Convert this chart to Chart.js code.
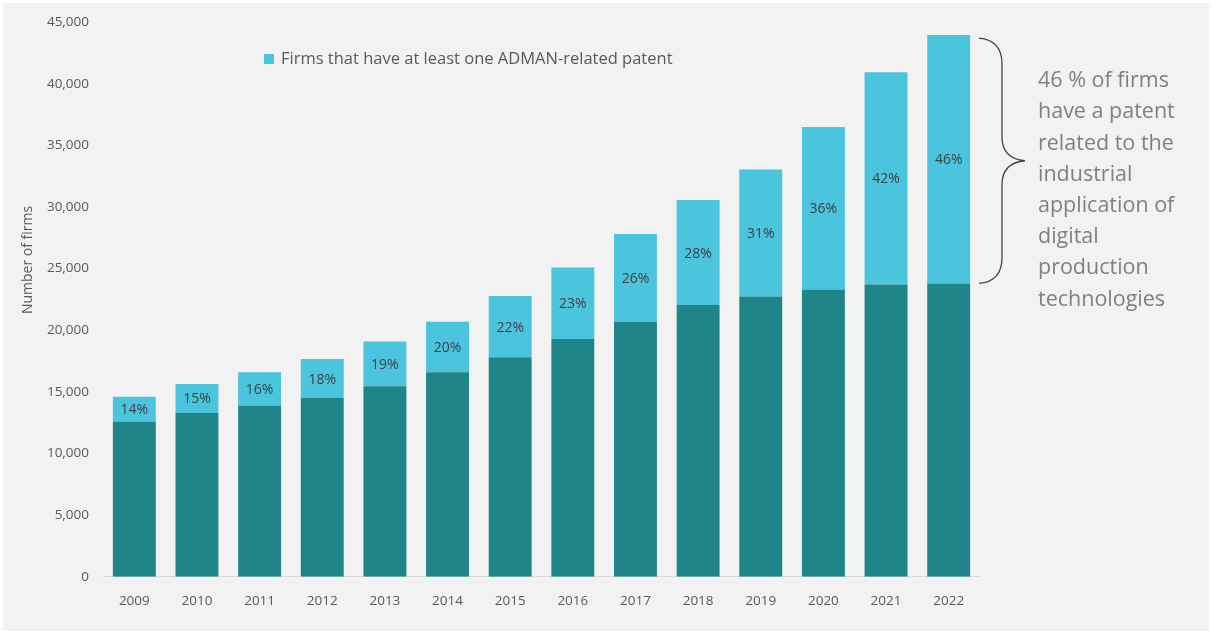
<!DOCTYPE html>
<html>
<head>
<meta charset="utf-8">
<script src="https://cdn.jsdelivr.net/npm/chart.js@4"></script>
<style>
  html, body { margin: 0; padding: 0; background: #ffffff; }
  #wrap { position: relative; width: 1212px; height: 633px; }
</style>
</head>
<body>
<div id="wrap"><canvas id="firmsChart"></canvas></div>
<script>
const years = ['2009', '2010', '2011', '2012', '2013', '2014', '2015',
  '2016', '2017', '2018', '2019', '2020', '2021', '2022'];

// firms without / with at least one ADMAN-related patent
const otherFirms = [12600, 13280, 13900, 14500, 15460, 16590, 17820,
  19300, 20670, 22040, 22740, 23300, 23710, 23800];
const patentFirms = [2000, 2370, 2700, 3160, 3630, 4110, 4950,
  5800, 7130, 8520, 10300, 13200, 17230, 20150];

const yTicks = [0, 5000, 10000, 15000, 20000, 25000, 30000, 35000, 40000, 45000];

const noteLines = ['46 % of firms', 'have a patent', 'related to the', 'industrial',
  'application of', 'digital', 'production', 'technologies'];

const sharePct = patentFirms.map((v, i) => Math.round(v / (v + otherFirms[i]) * 100));

const darkTeal = '#1f8589';
const lightBlue = '#4bc4de';

// grey panel, share labels, legend, brace and side note
const extras = {
  id: 'extras',
  beforeDraw(chart) {
    const ctx = chart.ctx;
    ctx.save();
    ctx.fillStyle = '#f2f2f2';
    ctx.fillRect(3, 3, 1206, 628);
    ctx.restore();
  },
  afterDatasetsDraw(chart) {
    const ctx = chart.ctx;
    const meta = chart.getDatasetMeta(1);
    ctx.save();
    ctx.font = '14px "Open Sans"';
    ctx.fillStyle = '#3f3f3f';
    ctx.textAlign = 'center';
    ctx.textBaseline = 'middle';
    meta.data.forEach((bar, i) => {
      ctx.fillText(sharePct[i] + '%', bar.x, (bar.y + bar.base) / 2 + 1);
    });
    ctx.restore();
  },
  afterDraw(chart) {
    const ctx = chart.ctx;
    const area = chart.chartArea;
    const y = chart.scales.y;
    ctx.save();

    // y axis title
    ctx.translate(28, 260);
    ctx.rotate(-Math.PI / 2);
    ctx.font = '14px "Open Sans"';
    ctx.fillStyle = '#595959';
    ctx.textAlign = 'center';
    ctx.textBaseline = 'middle';
    ctx.fillText('Number of firms', 0, 0);
    ctx.setTransform(1, 0, 0, 1, 0, 0);

    // legend for the patent series only
    const ds = chart.data.datasets[1];
    ctx.fillStyle = ds.backgroundColor;
    ctx.fillRect(264, 54, 10, 10);
    ctx.font = '16.5px "Open Sans"';
    ctx.fillStyle = '#595959';
    ctx.textAlign = 'left';
    ctx.textBaseline = 'middle';
    ctx.fillText(ds.label, 281, 59);

    // brace over the last patent segment
    const last = years.length - 1;
    const yT = y.getPixelForValue(otherFirms[last] + patentFirms[last]) + 3;
    const yB = y.getPixelForValue(otherFirms[last]);
    const yM = (yT + yB) / 2;
    const x0 = area.right - 1, xI = x0 + 23, xT = x0 + 46;
    ctx.strokeStyle = '#444444';
    ctx.lineWidth = 1.3;
    ctx.beginPath();
    ctx.moveTo(x0, yT);
    ctx.quadraticCurveTo(xI, yT + 2, xI, yT + 26);
    ctx.lineTo(xI, yM - 24);
    ctx.quadraticCurveTo(xI, yM - 2, xT, yM);
    ctx.quadraticCurveTo(xI, yM + 2, xI, yM + 24);
    ctx.lineTo(xI, yB - 26);
    ctx.quadraticCurveTo(xI, yB - 2, x0, yB);
    ctx.stroke();

    // side note
    ctx.font = '21.5px "Open Sans"';
    ctx.fillStyle = '#808080';
    noteLines.forEach((t, i) => ctx.fillText(t, 1038, 81 + i * 31.2));
    ctx.restore();
  }
};

new Chart(document.getElementById('firmsChart'), {
  type: 'bar',
  data: {
    labels: years,
    datasets: [
      {
        label: 'Other firms',
        data: otherFirms,
        backgroundColor: darkTeal,
        borderWidth: 0
      },
      {
        label: 'Firms that have at least one ADMAN-related patent',
        data: patentFirms,
        backgroundColor: lightBlue,
        borderWidth: 0
      }
    ]
  },
  options: {
    responsive: true,
    maintainAspectRatio: false,
    animation: false,
    categoryPercentage: 1,
    barPercentage: 0.685,
    layout: { padding: { left: 40, right: 232, top: 20, bottom: 8 } },
    plugins: {
      legend: { display: false },
      tooltip: { enabled: false },
      title: { display: false }
    },
    scales: {
      x: {
        stacked: true,
        grid: { display: false, drawTicks: false },
        border: { display: true, color: '#d9d9d9', width: 1 },
        ticks: { color: '#595959', font: { family: 'Open Sans', size: 13.5 }, padding: 16 }
      },
      y: {
        stacked: true,
        min: 0,
        max: 45000,
        afterFit(scale) { scale.width = 63; },
        afterBuildTicks(scale) { scale.ticks = yTicks.map(v => ({ value: v })); },
        grid: { display: false, drawTicks: false },
        border: { display: false },
        ticks: {
          color: '#595959',
          font: { family: 'Open Sans', size: 13.5 },
          padding: 14,
          callback: v => v.toLocaleString('en-US')
        }
      }
    }
  },
  plugins: [extras]
});
</script>
</body>
</html>
